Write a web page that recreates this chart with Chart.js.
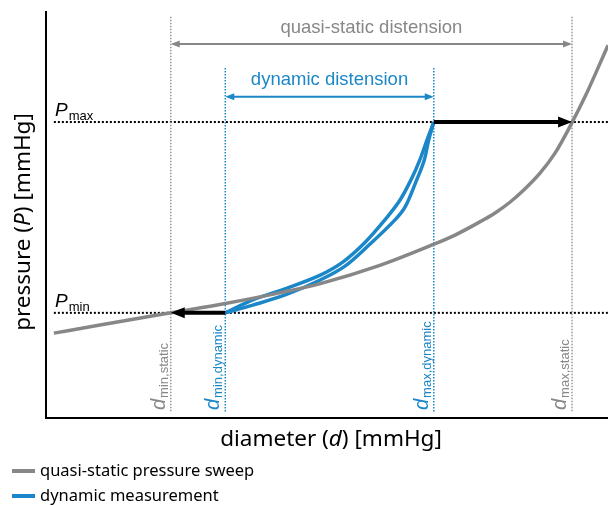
<!DOCTYPE html>
<html>
<head>
<meta charset="utf-8">
<script src="https://cdn.jsdelivr.net/npm/chart.js@4.4.1/dist/chart.umd.min.js"></script>
<style>
  html, body { margin: 0; padding: 0; background: #fff; }
  canvas { display: block; }
</style>
</head>
<body>
<canvas id="chart" width="608" height="506"></canvas>
<script>
// valores (unidades arbitrárias, 0..100)
const staticDiameter = [1.4, 9.6, 22.2, 31.9, 42.2, 48.8, 59.4, 68.3, 72.7, 77.2, 79.9, 82.6, 85.2, 87.9, 90.6, 93.2, 95.9, 98.6, 100];
const staticPressure = [20.9, 22.9, 25.9, 28.2, 31.0, 33.1, 37.6, 42.4, 45.0, 48.3, 50.5, 53.2, 56.4, 60.3, 65.3, 71.7, 79.1, 87.4, 91.8];

// loop dinâmico: carga (ramo de baixo) e descarga (ramo de cima)
const loadDiameter   = [31.9, 36.8, 42.9, 48.8, 53.2, 57.7, 62.1, 63.9, 65.8, 67.3, 68.1, 69.0];
const loadPressure   = [25.9, 27.8, 30.5, 34.0, 37.4, 42.9, 48.8, 52.0, 58.1, 63.5, 68.5, 72.9];
const unloadDiameter = [69.0, 67.8, 66.5, 65.1, 63.0, 60.3, 56.8, 52.8, 48.8, 42.9, 36.8, 31.9];
const unloadPressure = [72.9, 68.5, 63.5, 59.1, 53.7, 48.8, 43.3, 38.4, 35.2, 32.0, 29.1, 25.9];

// marcadores
const dMinStatic = 22.2, dMaxStatic = 93.6;
const dMinDynamic = 31.9, dMaxDynamic = 69.0;
const pMax = 72.9, pMin = 25.9;

const seriesLabels = ['quasi-static pressure sweep', 'dynamic measurement'];

const GREY = '#878787';
const BLUE = '#1b87c8';

const toPoints = (xs, ys) => xs.map((v, i) => ({ x: v, y: ys[i] }));

function line(ctx, x1, y1, x2, y2) {
    ctx.beginPath();
    ctx.moveTo(x1, y1);
    ctx.lineTo(x2, y2);
    ctx.stroke();
}

function arrowHead(ctx, tipX, tipY, dir, len, half) {
    ctx.beginPath();
    ctx.moveTo(tipX, tipY);
    ctx.lineTo(tipX - dir * len, tipY - half);
    ctx.lineTo(tipX - dir * len, tipY + half);
    ctx.closePath();
    ctx.fill();
}

// texto com subscrito (P_max, d_min,static ...)
function subText(ctx, main, sub, x, y, mainFont, subFont, drop) {
    ctx.font = mainFont;
    ctx.textAlign = 'left';
    ctx.textBaseline = 'alphabetic';
    ctx.fillText(main, x, y);
    const w = ctx.measureText(main).width;
    ctx.font = subFont;
    ctx.fillText(sub, x + w + 1, y + drop);
}

// texto com partes em itálico, centrado
function richText(ctx, parts, cx, cy, size, family) {
    const fonts = parts.map(p => (p.italic ? 'italic ' : '') + size + 'px ' + family);
    let total = 0;
    const widths = parts.map((p, i) => { ctx.font = fonts[i]; const w = ctx.measureText(p.text).width; total += w; return w; });
    let x = cx - total / 2;
    ctx.textAlign = 'left';
    ctx.textBaseline = 'middle';
    parts.forEach((p, i) => { ctx.font = fonts[i]; ctx.fillText(p.text, x, cy); x += widths[i]; });
}

const sketch = {
    id: 'sketch',
    beforeDatasetsDraw(chart) {
        const { ctx, chartArea, scales: { x, y } } = chart;
        ctx.save();
        // linhas pontilhadas de pressão
        ctx.strokeStyle = '#000';
        ctx.lineWidth = 2;
        ctx.setLineDash([2, 2]);
        [pMax, pMin].forEach(p => line(ctx, x.getPixelForValue(1.4), y.getPixelForValue(p), chartArea.right, y.getPixelForValue(p)));
        // verticais
        ctx.lineWidth = 1.5;
        ctx.setLineDash([1.5, 1.5]);
        ctx.strokeStyle = '#999';
        [dMinStatic, dMaxStatic].forEach(d => line(ctx, x.getPixelForValue(d), y.getPixelForValue(98.8), x.getPixelForValue(d), y.getPixelForValue(1.5)));
        ctx.strokeStyle = BLUE;
        [dMinDynamic, dMaxDynamic].forEach(d => line(ctx, x.getPixelForValue(d), y.getPixelForValue(86.2), x.getPixelForValue(d), y.getPixelForValue(1.5)));
        ctx.restore();
    },
    afterDatasetsDraw(chart) {
        const { ctx, scales: { x, y } } = chart;
        const px = v => x.getPixelForValue(v);
        const py = v => y.getPixelForValue(v);
        ctx.save();

        // setas de distensão
        const spans = [
            { a: dMinStatic, b: dMaxStatic, at: 92.1, color: GREY, text: 'quasi-static distension', textAt: 96.2 },
            { a: dMinDynamic, b: dMaxDynamic, at: 79.1, color: BLUE, text: 'dynamic distension', textAt: 83.3 }
        ];
        spans.forEach(s => {
            ctx.strokeStyle = s.color;
            ctx.fillStyle = s.color;
            ctx.lineWidth = 2;
            line(ctx, px(s.a) + 6, py(s.at), px(s.b) - 6, py(s.at));
            arrowHead(ctx, px(s.a), py(s.at), -1, 9, 3.5);
            arrowHead(ctx, px(s.b), py(s.at), 1, 9, 3.5);
            ctx.font = '18.5px "Liberation Sans", Arial, sans-serif';
            ctx.textAlign = 'center';
            ctx.textBaseline = 'middle';
            ctx.fillText(s.text, (px(s.a) + px(s.b)) / 2, py(s.textAt));
        });

        // setas pretas
        ctx.strokeStyle = '#000';
        ctx.fillStyle = '#000';
        ctx.lineWidth = 4;
        line(ctx, px(dMaxDynamic), py(pMax), px(dMaxStatic) - 10, py(pMax));
        arrowHead(ctx, px(dMaxStatic), py(pMax), 1, 14, 5.5);
        line(ctx, px(dMinDynamic), py(pMin), px(dMinStatic) + 10, py(pMin));
        arrowHead(ctx, px(dMinStatic), py(pMin), -1, 14, 5.5);

        // P_max / P_min
        const mainF = 'italic 19px "Liberation Sans", Arial, sans-serif';
        const subF = '13px "Liberation Sans", Arial, sans-serif';
        [['max', pMax], ['min', pMin]].forEach(([s, p]) => subText(ctx, 'P', s, 55, py(p) - 6, mainF, subF, 4));

        // rótulos verticais d_...
        const dLabels = [
            [dMinStatic, 'min,static', GREY],
            [dMinDynamic, 'min,dynamic', BLUE],
            [dMaxDynamic, 'max,dynamic', BLUE],
            [dMaxStatic, 'max,static', GREY]
        ];
        dLabels.forEach(([d, s, c]) => {
            ctx.save();
            ctx.translate(px(d) - 6, 410);
            ctx.rotate(-Math.PI / 2);
            ctx.fillStyle = c;
            subText(ctx, 'd', s, 0, 0, 'italic 20px "Liberation Sans", Arial, sans-serif', subF, 3);
            ctx.restore();
        });
        ctx.restore();
    },
    afterDraw(chart) {
        const { ctx } = chart;
        ctx.save();
        ctx.fillStyle = '#000';
        const fam = '"Noto Sans", "Open Sans", sans-serif';
        richText(ctx, [{ text: 'diameter (' }, { text: 'd', italic: true }, { text: ') [mmHg]' }], 331, 440, 22.5, fam);
        ctx.save();
        ctx.translate(24, 222);
        ctx.rotate(-Math.PI / 2);
        richText(ctx, [{ text: 'pressure (' }, { text: 'P', italic: true }, { text: ') [mmHg]' }], 0, 0, 22.5, fam);
        ctx.restore();

        // legenda
        chart.data.datasets.slice(0, 2).forEach((ds, i) => {
            const yy = 471 + i * 25;
            ctx.strokeStyle = ds.borderColor;
            ctx.lineWidth = 4;
            line(ctx, 12, yy, 35, yy);
            ctx.fillStyle = '#000';
            ctx.font = '16.5px ' + fam;
            ctx.textAlign = 'left';
            ctx.textBaseline = 'middle';
            ctx.fillText(ds.label, 40, yy);
        });
        ctx.restore();
    }
};

new Chart(document.getElementById('chart'), {
    type: 'scatter',
    data: {
        datasets: [
            { label: seriesLabels[0], data: toPoints(staticDiameter, staticPressure), borderColor: GREY, borderWidth: 3.5, showLine: true, pointRadius: 0, cubicInterpolationMode: 'monotone' },
            { label: seriesLabels[1], data: toPoints(loadDiameter, loadPressure), borderColor: BLUE, borderWidth: 3.5, showLine: true, pointRadius: 0, tension: 0.35 },
            { label: seriesLabels[1], data: toPoints(unloadDiameter, unloadPressure), borderColor: BLUE, borderWidth: 3.5, showLine: true, pointRadius: 0, tension: 0.35 }
        ]
    },
    options: {
        responsive: false,
        animation: false,
        layout: { padding: { top: 12, right: 0, left: 0, bottom: 0 } },
        plugins: { legend: { display: false }, tooltip: { enabled: false } },
        scales: {
            x: {
                type: 'linear', min: 0, max: 100,
                ticks: { display: false }, grid: { display: false },
                border: { color: '#000', width: 2 },
                afterFit: s => { s.height = 88; }
            },
            y: {
                type: 'linear', min: 0, max: 100,
                ticks: { display: false }, grid: { display: false },
                border: { color: '#000', width: 2 },
                afterFit: s => { s.width = 46; }
            }
        }
    },
    plugins: [sketch]
});
</script>
</body>
</html>
